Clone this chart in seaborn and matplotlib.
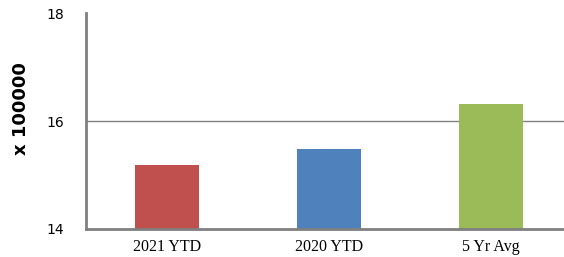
import matplotlib
matplotlib.use('Agg')
import matplotlib.pyplot as plt
import seaborn as sns
import pandas as pd

# values (x 100000)
categories = ['2021 YTD', '2020 YTD', '5 Yr Avg']
values = [15.19, 15.48, 16.31]
colors = ['#C0504D', '#4F81BD', '#9BBB59']
yticks = [14, 16, 18]

df = pd.DataFrame({'cat': categories, 'val': values})

sns.set_style('white')
plt.rcParams['text.color'] = 'black'
plt.rcParams['xtick.color'] = 'black'
plt.rcParams['ytick.color'] = 'black'
plt.rcParams['axes.labelcolor'] = 'black'

fig = plt.figure(figsize=(5.64, 2.57), dpi=100)
ax = fig.add_axes([0.1525, 0.109, 0.8475, 0.84])

sns.barplot(data=df, x='cat', y='val', hue='cat', palette=colors,
            width=0.4, legend=False, ax=ax, saturation=1, zorder=3,
            linewidth=0, edgecolor='none')

ax.set_ylim(14, 18)
ax.set_xlim(-0.5, 2.45)
ax.set_yticks(yticks)
ax.set_yticklabels([str(t) for t in yticks], fontsize=10, family='DejaVu Sans')
ax.set_xticks(range(len(categories)))
ax.set_xticklabels(categories, fontsize=11.5, family='Liberation Serif')
ax.tick_params(axis='y', length=0, pad=16)
ax.tick_params(axis='x', length=0, pad=7)

ax.axhline(16, color='#808080', lw=1, zorder=1)

for s in ['top', 'right']:
    ax.spines[s].set_visible(False)
for s in ['left', 'bottom']:
    ax.spines[s].set_color('#808080')
    ax.spines[s].set_linewidth(2)
    ax.spines[s].set_zorder(4)

ax.set_xlabel('')
ax.set_ylabel('x 100000', fontsize=13, fontweight='bold', family='DejaVu Sans')
ax.yaxis.set_label_coords(-0.118, 0.56)

fig.savefig('out.png', dpi=100)
